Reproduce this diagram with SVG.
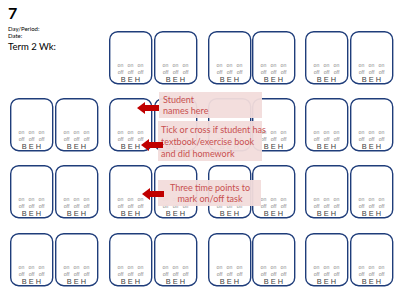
<svg xmlns="http://www.w3.org/2000/svg" xmlns:xlink="http://www.w3.org/1999/xlink" width="400" height="300" viewBox="0 0 400 300">
<style>
text{font-family:Lato,"Liberation Sans",sans-serif}
.box{fill:#fff;stroke:#1F3D7A;stroke-width:1.4}
.oo{font-family:"Liberation Sans",sans-serif;font-size:5.2px;fill:#8c8c8c;text-anchor:middle}
.beh{font-family:"Liberation Sans",sans-serif;font-size:7.4px;fill:#404040;text-anchor:middle}
.hdr{fill:#000}
.call{fill:#F2DCDB;fill-opacity:0.95}
.ct{font-size:9px;fill:#C85050}
.arr{fill:#C00000}
</style>
<defs>
<g id="desk">
<rect class="box" x="0.7" y="0.7" width="42" height="52" rx="8"/>
<text class="oo" x="11.5" y="36">on</text><text class="oo" x="21.5" y="36">on</text><text class="oo" x="31.5" y="36">on</text>
<text class="oo" x="11.5" y="42.5">off</text><text class="oo" x="21.5" y="42.5">off</text><text class="oo" x="31.5" y="42.5">off</text>
<text class="beh" x="21.5" y="50.5">B E H</text>
</g>
<polygon id="arrow" points="0,0 8,-6 8,-3 22,-3 22,3 8,3 8,6"/>
</defs>
<g id="header">
<text class="hdr" x="8" y="19" font-size="16" font-weight="bold">7</text>
<text class="hdr" x="8" y="31" font-size="6">Day/Period:</text>
<text class="hdr" x="8" y="38" font-size="6">Date:</text>
<text class="hdr" x="8" y="50" font-size="9.5">Term 2 Wk:</text>
</g>
<g id="row1">
<g id="d1-3"><use xlink:href="#desk" x="109" y="31"/></g>
<g id="d1-4"><use xlink:href="#desk" x="154" y="31"/></g>
<g id="d1-5"><use xlink:href="#desk" x="208" y="31"/></g>
<g id="d1-6"><use xlink:href="#desk" x="252" y="31"/></g>
<g id="d1-7"><use xlink:href="#desk" x="305" y="31"/></g>
<g id="d1-8"><use xlink:href="#desk" x="350" y="31"/></g>
</g>
<g id="row2">
<g id="d2-1"><use xlink:href="#desk" x="10" y="98"/></g>
<g id="d2-2"><use xlink:href="#desk" x="55" y="98"/></g>
<g id="d2-3"><use xlink:href="#desk" x="109" y="98"/></g>
<g id="d2-4"><use xlink:href="#desk" x="154" y="98"/></g>
<g id="d2-5"><use xlink:href="#desk" x="208" y="98"/></g>
<g id="d2-6"><use xlink:href="#desk" x="252" y="98"/></g>
<g id="d2-7"><use xlink:href="#desk" x="305" y="98"/></g>
<g id="d2-8"><use xlink:href="#desk" x="350" y="98"/></g>
</g>
<g id="row3">
<g id="d3-1"><use xlink:href="#desk" x="10" y="165"/></g>
<g id="d3-2"><use xlink:href="#desk" x="55" y="165"/></g>
<g id="d3-3"><use xlink:href="#desk" x="109" y="165"/></g>
<g id="d3-4"><use xlink:href="#desk" x="154" y="165"/></g>
<g id="d3-5"><use xlink:href="#desk" x="208" y="165"/></g>
<g id="d3-6"><use xlink:href="#desk" x="252" y="165"/></g>
<g id="d3-7"><use xlink:href="#desk" x="305" y="165"/></g>
<g id="d3-8"><use xlink:href="#desk" x="350" y="165"/></g>
</g>
<g id="row4">
<g id="d4-1"><use xlink:href="#desk" x="10" y="233"/></g>
<g id="d4-2"><use xlink:href="#desk" x="55" y="233"/></g>
<g id="d4-3"><use xlink:href="#desk" x="109" y="233"/></g>
<g id="d4-4"><use xlink:href="#desk" x="154" y="233"/></g>
<g id="d4-5"><use xlink:href="#desk" x="208" y="233"/></g>
<g id="d4-6"><use xlink:href="#desk" x="252" y="233"/></g>
<g id="d4-7"><use xlink:href="#desk" x="305" y="233"/></g>
<g id="d4-8"><use xlink:href="#desk" x="350" y="233"/></g>
</g>
<g id="callout-names">
<rect class="call" x="159" y="92" width="103" height="26"/>
<text class="ct" x="163" y="103">Student</text>
<text class="ct" x="163" y="114">names here</text>
</g>
<g id="callout-tick">
<rect class="call" x="158" y="121" width="104" height="40"/>
<text class="ct" x="161" y="133">Tick or cross if student  has</text>
<text class="ct" x="161" y="145">textbook/exercise book</text>
<text class="ct" x="161" y="157">and did homework</text>
</g>
<g id="callout-time">
<rect class="call" x="158" y="180" width="103" height="26"/>
<text class="ct" x="210" y="191" text-anchor="middle">Three time points to</text>
<text class="ct" x="210" y="202" text-anchor="middle">mark on/off task</text>
</g>
<g id="connectors">
<use class="arr" xlink:href="#arrow" x="137" y="108"/>
<use class="arr" xlink:href="#arrow" x="141" y="145"/>
<use class="arr" xlink:href="#arrow" x="142" y="194"/>
</g>
</svg>
